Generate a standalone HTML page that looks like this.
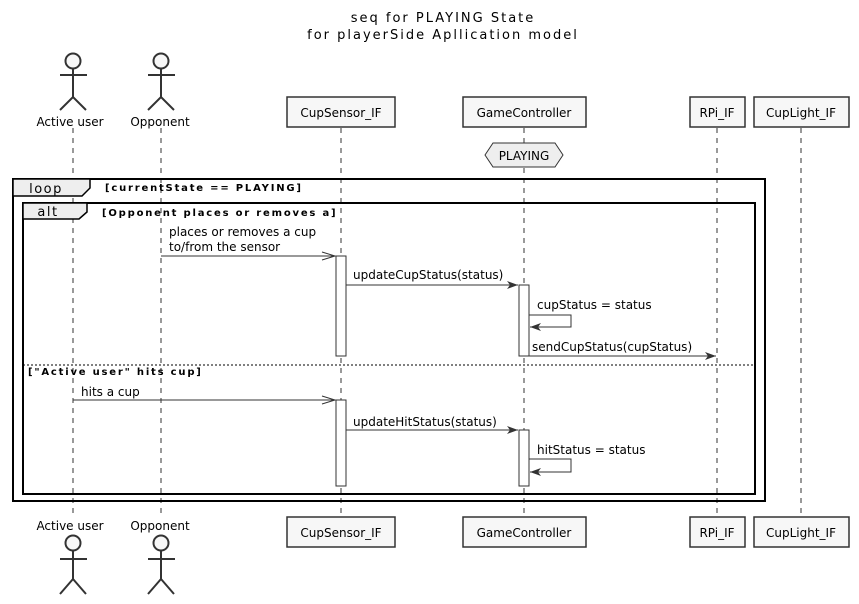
<!DOCTYPE html>
<html><head><meta charset="utf-8"><style>
html,body{margin:0;padding:0;background:#fff;}
svg{display:block;font-family:"DejaVu Sans","Liberation Sans",sans-serif;}
</style></head><body>
<svg width="859" height="604" viewBox="0 0 859 604" xmlns="http://www.w3.org/2000/svg">
<rect width="859" height="604" fill="#fff"/>
<g font-size="13" text-anchor="middle" fill="#000" letter-spacing="2">
<text x="443" y="22">seq for PLAYING State</text>
<text x="443" y="39">for playerSide Apllication model</text>
</g>
<g stroke="#333" stroke-width="1" stroke-dasharray="5,5">
<line x1="73" y1="128" x2="73" y2="515"/>
<line x1="161" y1="128" x2="161" y2="515"/>
<line x1="341" y1="128" x2="341" y2="515"/>
<line x1="524" y1="128" x2="524" y2="515"/>
<line x1="717" y1="128" x2="717" y2="515"/>
<line x1="801" y1="128" x2="801" y2="515"/>
</g>
<g stroke="#333" stroke-width="2" fill="#f7f7f7">
<circle cx="73" cy="61" r="7.5"/><path d="M73 68.5V97M60 75H87M60 110L73 97L86 110" fill="none"/>
<circle cx="161" cy="61" r="7.5"/><path d="M161 68.5V97M148 75H175M148 110L161 97L174 110" fill="none"/>
<circle cx="73" cy="543" r="7.5"/><path d="M73 550.5V579M60 559H87M60 594L73 579L86 594" fill="none"/>
<circle cx="161" cy="543" r="7.5"/><path d="M161 550.5V579M148 559H175M148 594L161 579L174 594" fill="none"/>
</g>
<g font-size="12" text-anchor="middle" fill="#000">
<text x="70" y="126">Active user</text><text x="160" y="126">Opponent</text>
<text x="70" y="530">Active user</text><text x="160" y="530">Opponent</text>
</g>
<g stroke="#333" stroke-width="1.5" fill="#f7f7f7">
<rect x="287" y="97" width="108" height="30"/><rect x="463" y="97" width="123" height="30"/>
<rect x="690" y="97" width="55" height="30"/><rect x="754" y="97" width="95" height="30"/>
<rect x="287" y="517" width="108" height="30"/><rect x="463" y="517" width="123" height="30"/>
<rect x="690" y="517" width="55" height="30"/><rect x="754" y="517" width="95" height="30"/>
</g>
<g font-size="12" text-anchor="middle" fill="#000">
<text x="341" y="117">CupSensor_IF</text><text x="524" y="117">GameController</text>
<text x="717" y="117">RPi_IF</text><text x="801" y="117">CupLight_IF</text>
<text x="341" y="537">CupSensor_IF</text><text x="524" y="537">GameController</text>
<text x="717" y="537">RPi_IF</text><text x="801" y="537">CupLight_IF</text>
</g>
<polygon points="485,155 493,143 555,143 563,155 555,167 493,167" fill="#eee" stroke="#333" stroke-width="1"/>
<text x="524" y="160" font-size="12" text-anchor="middle">PLAYING</text>
<rect x="13" y="179" width="752" height="322" fill="none" stroke="#000" stroke-width="2"/>
<polygon points="13,179 90,179 90,188 82,196 13,196" fill="#eee" stroke="#000" stroke-width="1.5"/>
<text x="46" y="193" font-size="13" text-anchor="middle" letter-spacing="1.5">loop</text>
<text x="105" y="191" font-size="10" font-weight="bold" letter-spacing="1.8">[currentState == PLAYING]</text>
<rect x="23" y="203" width="732" height="291" fill="none" stroke="#000" stroke-width="2"/>
<polygon points="23,203 87,203 87,212 79,219 23,219" fill="#eee" stroke="#000" stroke-width="1.5"/>
<text x="48" y="216" font-size="13" text-anchor="middle" letter-spacing="1.5">alt</text>
<text x="102" y="216" font-size="10" font-weight="bold" letter-spacing="1.8">[Opponent places or removes a]</text>
<line x1="23" y1="365" x2="755" y2="365" stroke="#000" stroke-width="1" stroke-dasharray="2,2"/>
<text x="28" y="375" font-size="10" font-weight="bold" letter-spacing="1.8">["Active user" hits cup]</text>
<g fill="#fff" stroke="#333" stroke-width="1">
<rect x="336" y="256" width="10" height="100"/><rect x="519" y="285" width="10" height="71"/>
<rect x="336" y="400" width="10" height="86"/><rect x="519" y="430" width="10" height="56"/>
</g>
<g stroke="#333" stroke-width="1" fill="none">
<line x1="161" y1="256" x2="335" y2="256"/><path d="M322 252L335 256L322 260"/>
<line x1="346" y1="285" x2="518" y2="285"/>
<path d="M529 315H571V327H530"/>
<line x1="529" y1="356" x2="716" y2="356"/>
<line x1="73" y1="400" x2="335" y2="400"/><path d="M322 396L335 400L322 404"/>
<line x1="346" y1="430" x2="518" y2="430"/>
<path d="M529 459H571V472H530"/>
</g>
<g fill="#333">
<polygon points="518,285 507,281 510,285 507,289"/>
<polygon points="530,327 541,323 538,327 541,331"/>
<polygon points="716,356 705,352 708,356 705,360"/>
<polygon points="518,430 507,426 510,430 507,434"/>
<polygon points="530,472 541,468 538,472 541,476"/>
</g>
<g font-size="12" fill="#000">
<text x="169" y="236">places or removes a cup</text>
<text x="169" y="251">to/from the sensor</text>
<text x="353" y="279">updateCupStatus(status)</text>
<text x="537" y="309">cupStatus = status</text>
<text x="532" y="351">sendCupStatus(cupStatus)</text>
<text x="81" y="396">hits a cup</text>
<text x="353" y="426">updateHitStatus(status)</text>
<text x="537" y="454">hitStatus = status</text>
</g>
</svg>
</body></html>
